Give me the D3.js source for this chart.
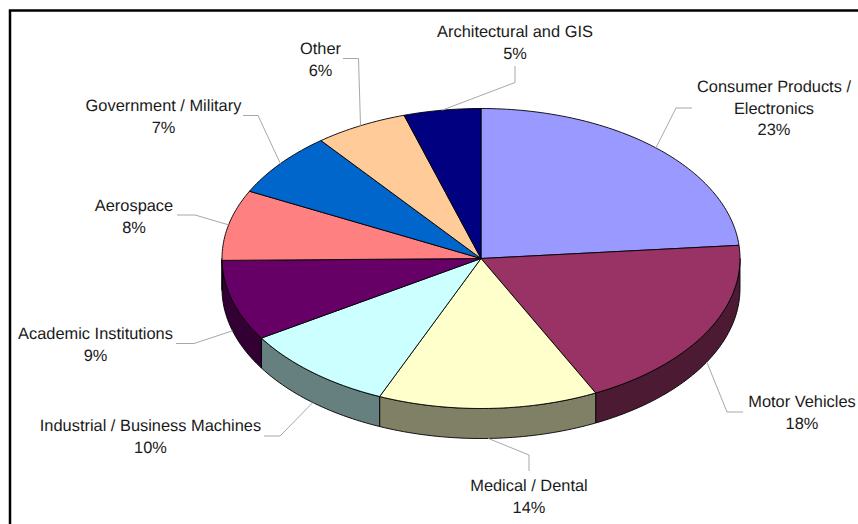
<!DOCTYPE html>
<html>
<head>
<meta charset="utf-8">
<style>
  html, body { margin: 0; padding: 0; background: #fff; }
  text { font-family: "Liberation Sans", Arial, sans-serif; font-size: 16.4px; fill: #1a1a1a; text-anchor: middle; text-rendering: geometricPrecision; }
</style>
</head>
<body>
<svg id="pie" width="858" height="524"></svg>
<script src="https://cdnjs.cloudflare.com/ajax/libs/d3/7.8.5/d3.min.js"></script>
<script>
// slice names, clockwise from 12 o'clock
var categories = ["Consumer Products / Electronics", "Motor Vehicles", "Medical / Dental",
  "Industrial / Business Machines", "Academic Institutions", "Aerospace",
  "Government / Military", "Other", "Architectural and GIS"];

// slice sizes as measured on the picture (the tilt makes them differ a bit from the printed labels)
var shares = [23.6, 19.1, 13.7, 9.7, 8.7, 7.6, 7.0, 5.8, 4.8];

// printed percentages
var percentLabels = ["23%", "18%", "14%", "10%", "9%", "8%", "7%", "6%", "5%"];

var topColors = ["#9999ff", "#993366", "#ffffcc", "#ccffff", "#660066", "#ff8080", "#0066cc", "#ffcc99", "#000080"];

// label placement: text lines, centre x, first baseline, leader start and elbow
var labelLayout = [
  { lines: ["Consumer Products /", "Electronics"], x: 774, y: 92, from: [692, 108], elbow: [676, 108] },
  { lines: ["Motor Vehicles"], x: 802, y: 407, from: [743, 412], elbow: [727, 412] },
  { lines: ["Medical / Dental"], x: 529, y: 491, from: [529, 471], elbow: [529, 455] },
  { lines: ["Industrial / Business Machines"], x: 150.5, y: 431, from: [264, 436], elbow: [280, 436] },
  { lines: ["Academic Institutions"], x: 95.5, y: 339, from: [176, 343.5], elbow: [194, 343.5] },
  { lines: ["Aerospace"], x: 134, y: 211, from: [177, 215], elbow: [195, 215] },
  { lines: ["Government / Military"], x: 163.5, y: 111, from: [243, 115.5], elbow: [258, 115.5] },
  { lines: ["Other"], x: 320.5, y: 54, from: [343, 58.5], elbow: [358.5, 58.5] },
  { lines: ["Architectural and GIS"], x: 515, y: 37, from: [515, 66], elbow: [515, 82.5] }
];

var cx = 481, cy = 258.5, rx = 259, ry = 150, depth = 30, lineGap = 21.5;

var svg = d3.select("#pie");

// frame only shows on the left and top
svg.append("path")
  .attr("d", "M10,524V10.5H858")
  .attr("fill", "none")
  .attr("stroke", "#000")
  .attr("stroke-width", 2.5);

var x = d3.scaleLinear().domain([-1, 1]).range([cx - rx, cx + rx]);
var y = d3.scaleLinear().domain([1, -1]).range([cy - ry, cy + ry]);

var slices = d3.pie().sort(null).value(d => d)(shares);

var ptX = a => x(Math.sin(a));
var ptY = a => y(Math.cos(a));
var line = d3.line();

// points along the rim between two angles
function rim(a0, a1, drop) {
  var n = Math.max(2, Math.ceil((a1 - a0) / 0.02));
  return d3.range(n + 1).map(i => {
    var a = a0 + (a1 - a0) * i / n;
    return [ptX(a), ptY(a) + drop];
  });
}

// side walls, only the half facing the viewer
slices.forEach((s, i) => {
  var a0 = Math.max(s.startAngle, Math.PI / 2);
  var a1 = Math.min(s.endAngle, Math.PI * 3 / 2);
  if (a1 <= a0) return;
  var wall = rim(a0, a1, 0).concat(rim(a0, a1, depth).reverse());
  svg.append("path")
    .attr("d", line(wall) + "Z")
    .attr("fill", d3.interpolateRgb(topColors[i], "#000")(0.5))
    .attr("stroke", "#000")
    .attr("stroke-width", 0.9);
});

// top faces
svg.selectAll(".slice")
  .data(slices)
  .enter()
  .append("path")
  .attr("class", "slice")
  .attr("d", d => line([[x(0), y(0)]].concat(rim(d.startAngle, d.endAngle, 0))) + "Z")
  .attr("fill", (d, i) => topColors[i])
  .attr("stroke", "#000")
  .attr("stroke-width", 0.9)
  .attr("stroke-linejoin", "round");

// leader lines end at the middle of each slice's outer edge
svg.selectAll(".leader")
  .data(slices)
  .enter()
  .append("path")
  .attr("class", "leader")
  .attr("d", (d, i) => {
    var mid = (d.startAngle + d.endAngle) / 2;
    var drop = Math.cos(mid) < 0 ? depth : 0;
    return line([labelLayout[i].from, labelLayout[i].elbow, [ptX(mid), ptY(mid) + drop]]);
  })
  .attr("fill", "none")
  .attr("stroke", "#a8a8a8")
  .attr("stroke-width", 1);

// labels
var labels = svg.selectAll(".label")
  .data(labelLayout)
  .enter()
  .append("text")
  .attr("class", "label");

labels.each(function(d, i) {
  var t = d3.select(this);
  d.lines.concat(percentLabels[i]).forEach((str, k) => {
    t.append("tspan")
      .attr("x", d.x)
      .attr("y", d.y + k * lineGap)
      .text(str);
  });
});
</script>
</body>
</html>
